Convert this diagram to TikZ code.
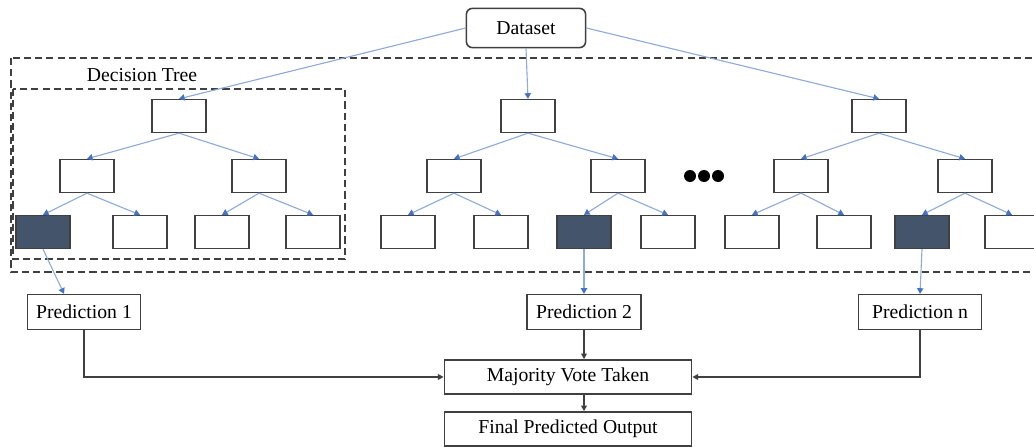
\documentclass[tikz,border=0pt]{standalone}
\usepackage{fontspec}
\setmainfont{Liberation Serif}
\usetikzlibrary{arrows.meta, positioning}
\definecolor{boxgray}{RGB}{64,64,64}
\definecolor{leafdark}{RGB}{68,84,106}
\definecolor{lineblue}{RGB}{143,170,220}
\definecolor{tipblue}{RGB}{68,114,196}

\begin{document}
\begin{tikzpicture}[x=0.025cm, y=-0.025cm, font=\fontsize{14}{16}\selectfont,
    box/.style={draw=boxgray, line width=1.1pt, minimum width=1.35cm, minimum height=0.82cm, inner sep=0pt},
    darkbox/.style={box, fill=leafdark},
    txtbox/.style={draw=boxgray, line width=1.1pt, minimum height=0.87cm, inner sep=0pt},
    blueline/.style={draw=lineblue, line width=0.8pt, -{Triangle[length=4pt, width=4.5pt, color=tipblue]}},
    blackline/.style={draw=boxgray, line width=1pt, -{Triangle[length=4pt, width=4pt]}},
    dashbox/.style={draw=boxgray, line width=1.4pt, dash pattern=on 5pt off 3pt}]

    \useasboundingbox (0,0) rectangle (1034,447);

    % Dashed frames
    \draw[dashbox] (11,58) rectangle (1050,272);
    \draw[dashbox] (13,89) rectangle (345,259);
    \node (dtlabel) at (142,75) {Decision Tree};

    % Dataset
    \node[txtbox, rounded corners=0.15cm, minimum width=2.98cm, minimum height=0.98cm] (ds) at (526,28) {Dataset};

    % Tree 1
    \node[box] (t1) at (179,116) {};
    \node[box] (t1L) at (87,176) {};
    \node[box] (t1R) at (259,176) {};
    \node[darkbox] (t1LL) at (43,232) {};
    \node[box] (t1LR) at (140,232) {};
    \node[box] (t1RL) at (222,232) {};
    \node[box] (t1RR) at (313,232) {};

    % Tree 2
    \node[box] (t2) at (528,116) {};
    \node[box] (t2L) at (454,176) {};
    \node[box] (t2R) at (618,176) {};
    \node[box] (t2LL) at (408,232) {};
    \node[box] (t2LR) at (501,232) {};
    \node[darkbox] (t2RL) at (584,232) {};
    \node[box] (t2RR) at (668,232) {};

    % Tree 3
    \node[box] (t3) at (879,116) {};
    \node[box] (t3L) at (801,176) {};
    \node[box] (t3R) at (965,176) {};
    \node[box] (t3LL) at (752,232) {};
    \node[box] (t3LR) at (844,232) {};
    \node[darkbox] (t3RL) at (922,232) {};
    \node[box] (t3RR) at (1012,232) {};

    % Dots
    \foreach \x in {690,704,718}
        \fill (\x,176) circle (6);

    % Predictions and vote
    \node[txtbox, minimum width=2.83cm] (p1) at (84,312) {Prediction 1};
    \node[txtbox, minimum width=2.85cm] (p2) at (584,312) {Prediction 2};
    \node[txtbox, minimum width=3.08cm] (pn) at (920,312) {Prediction n};
    \node[txtbox, minimum width=6.18cm, minimum height=0.85cm] (mv) at (568,377) {Majority Vote Taken};
    \node[txtbox, minimum width=6.18cm, minimum height=0.85cm] (fo) at (568,429) {Final Predicted Output};

    % Blue connectors
    \draw[blueline] (ds.west) -- (t1.north);
    \draw[blueline] (ds.south) -- (t2.north);
    \draw[blueline] (ds.east) -- (t3.north);
    \foreach \t in {t1,t2,t3} {
        \draw[blueline] (\t.south) -- (\t L.north);
        \draw[blueline] (\t.south) -- (\t R.north);
        \draw[blueline] (\t L.south) -- (\t LL.north);
        \draw[blueline] (\t L.south) -- (\t LR.north);
        \draw[blueline] (\t R.south) -- (\t RL.north);
        \draw[blueline] (\t R.south) -- (\t RR.north);
    }
    \draw[blueline] (t1LL.south) -- ([xshift=-0.5cm]p1.north);
    \draw[blueline] (t2RL.south) -- (p2.north);
    \draw[blueline] (t3RL.south) -- (pn.north);

    % Black connectors
    \draw[blackline] (p1.south) |- (mv.west);
    \draw[blackline] (pn.south) |- (mv.east);
    \draw[blackline] (p2.south) -- (p2.south |- mv.north);
    \draw[blackline] (mv.south -| p2.south) -- (fo.north -| p2.south);
\end{tikzpicture}
\end{document}
